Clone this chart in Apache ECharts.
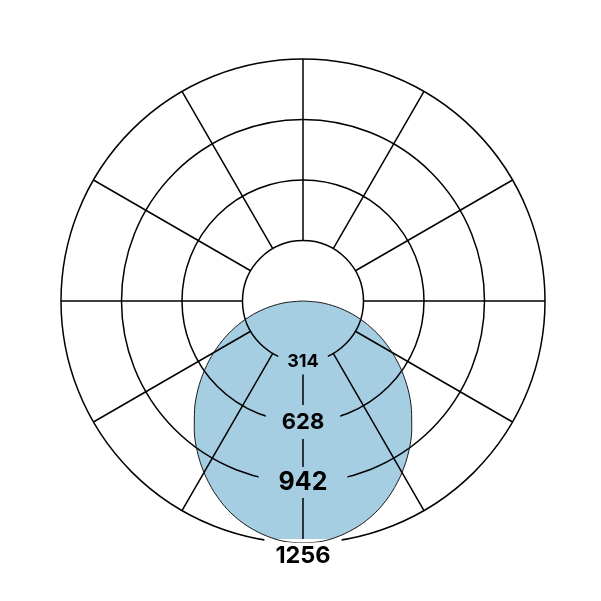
<!DOCTYPE html>
<html>
<head>
<meta charset="UTF-8">
<title>Polar intensity</title>
<script src="https://cdn.jsdelivr.net/npm/echarts@6/dist/echarts.min.js"></script>
<style>
    body { margin: 0; padding: 0; background: #fff; }
    #chart { width: 601px; height: 601px; }
</style>
</head>
<body>
<div id="chart"></div>
<script>
    // angle measured from straight down (nadir), one half; the curve is mirrored
    var angles = [0, 5, 10, 15, 20, 25, 30, 35, 40, 45, 50, 55, 60, 65, 70, 75, 80, 85, 90];
    var intensity = [1256, 1250, 1228, 1195, 1150, 1093, 1028, 956, 878, 796, 711, 623, 535, 446, 356, 267, 178, 89, 0];
    var ringTicks = [314, 628, 942, 1256];

    var fillColor = '#a6cee3';
    var center = [303, 301];

    // right half (360 - a) then left half (a)
    var curve = [];
    for (var i = angles.length - 1; i > 0; i--) {
        curve.push([intensity[i], 360 - angles[i]]);
    }
    for (var j = 0; j < angles.length; j++) {
        curve.push([intensity[j], angles[j]]);
    }

    var chart = echarts.init(document.getElementById('chart'));
    var option = {
        backgroundColor: '#fff',
        animation: false,
        polar: [
            { center: center, radius: [0, 242] },      // data
            { center: center, radius: [60.5, 242] }    // grid with the hole
        ],
        radiusAxis: [
            { polarIndex: 0, type: 'value', min: 0, max: 1256, show: false },
            {
                polarIndex: 1, type: 'value', min: 314, max: 1256, interval: 314, z: 4,
                axisLine: { show: false },
                axisTick: { show: false },
                splitLine: { show: true, lineStyle: { color: '#000', width: 1.5 } },
                axisLabel: {
                    show: true,
                    margin: 0,
                    align: 'center',
                    verticalAlign: 'middle',
                    color: '#000',
                    fontFamily: 'Inter',
                    fontWeight: 'bold',
                    formatter: function (v) {
                        var k = ringTicks.indexOf(v);
                        if (k === 3) return '{s| }\n{d|' + v + '}';
                        return '{' + ['a', 'b', 'c'][k] + '|' + v + '}';
                    },
                    rich: {
                        a: { fontSize: 18, lineHeight: 18, fontWeight: 'bold', fontFamily: 'Inter', color: '#000',
                             padding: [4, 9], backgroundColor: fillColor },
                        b: { fontSize: 22, lineHeight: 22, fontWeight: 'bold', fontFamily: 'Inter', color: '#000',
                             padding: [6, 16], backgroundColor: fillColor },
                        c: { fontSize: 25, lineHeight: 25, fontWeight: 'bold', fontFamily: 'Inter', color: '#000',
                             padding: [3, 20], backgroundColor: fillColor },
                        s: { fontSize: 10, lineHeight: 21 },
                        d: { fontSize: 23.5, lineHeight: 23, fontWeight: 'bold', fontFamily: 'Inter', color: '#000',
                             padding: [5, 11, 0, 11], backgroundColor: '#fff' }
                    }
                }
            }
        ],
        angleAxis: [
            { polarIndex: 0, type: 'value', min: 0, max: 360, startAngle: 270, show: false },
            {
                polarIndex: 1, type: 'value', min: 0, max: 360, interval: 30, startAngle: 270, z: 3,
                axisLine: { show: false },
                axisTick: { show: false },
                axisLabel: { show: false },
                splitLine: { show: true, lineStyle: { color: '#000', width: 1.5 } }
            }
        ],
        series: [
            {
                type: 'line',
                coordinateSystem: 'polar',
                polarIndex: 0,
                data: curve,
                smooth: 0.3,
                symbol: 'none',
                z: 2,
                lineStyle: { width: 0 },
                areaStyle: { color: fillColor, opacity: 1 }
            },
            {
                type: 'line',
                coordinateSystem: 'polar',
                polarIndex: 0,
                data: curve,
                smooth: 0.3,
                symbol: 'none',
                z: 6,
                lineStyle: { color: '#1a1a1a', width: 1 }
            }
        ]
    };
    chart.setOption(option);
</script>
</body>
</html>
